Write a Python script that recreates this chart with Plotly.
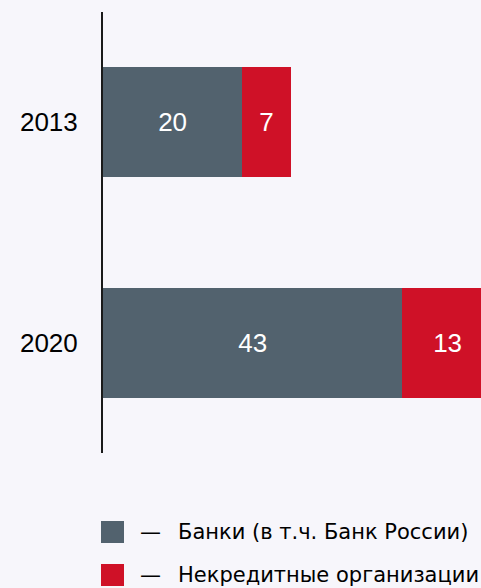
import plotly.graph_objects as go

years = ["2013", "2020"]
banks = [20, 43]
nonbanks = [7, 13]
series_names = ["Банки (в т.ч. Банк России)", "Некредитные организации"]
colors = ["#52626e", "#cf1127"]
BG = "#f7f6fb"
FONT = "Liberation Sans"
LFONT = "DejaVu Sans"

L, T, B, W, H = 103, 12, 135, 481, 588
PW, PH = W - L, H - T - B

fig = go.Figure()
for vals, name, col in zip([banks, nonbanks], series_names, colors):
    fig.add_trace(go.Bar(
        y=years, x=vals, name=name, orientation="h",
        marker=dict(color=col, line=dict(width=0)),
        text=[str(v) for v in vals], textposition="inside",
        insidetextanchor="middle", textangle=0,
        textfont=dict(color="white", size=26, family=FONT),
        width=0.5, showlegend=False, cliponaxis=True,
    ))

fig.update_layout(
    barmode="stack", width=W, height=H,
    margin=dict(l=L, r=0, t=T, b=B),
    paper_bgcolor=BG, plot_bgcolor=BG,
    font=dict(family=FONT, color="black"),
)
fig.update_xaxes(range=[0, 54.3], visible=False, showgrid=False)
fig.update_yaxes(autorange=False, range=[1.5, -0.5], showgrid=False,
                 showline=True, linecolor="#1a1a1a", linewidth=2,
                 ticks="", ticklabelstandoff=18,
                 tickfont=dict(size=26, family=FONT, color="black"))

# Legend drawn manually (paper coords relative to plot area)
legend_y = [532, 575]
for i, (name, col) in enumerate(zip(series_names, colors)):
    yc = (T + PH - legend_y[i]) / PH
    fig.add_shape(type="rect", xref="paper", yref="paper",
                  x0=(101 - L) / PW, x1=(124 - L) / PW,
                  y0=yc - 11 / PH, y1=yc + 11 / PH,
                  fillcolor=col, line=dict(width=0), layer="above")
    fig.add_annotation(xref="paper", yref="paper", x=(138 - L) / PW, y=yc,
                       text="—", showarrow=False, xanchor="left",
                       yanchor="middle", font=dict(size=21, family=LFONT, color="black"))
    fig.add_annotation(xref="paper", yref="paper", x=(176 - L) / PW, y=yc,
                       text=name, showarrow=False, xanchor="left",
                       yanchor="middle", font=dict(size=21, family=LFONT, color="black"))

fig.write_html("out.html", config={"displayModeBar": False},
               post_script="document.body.style.margin='0';document.body.style.background='%s';" % BG)
